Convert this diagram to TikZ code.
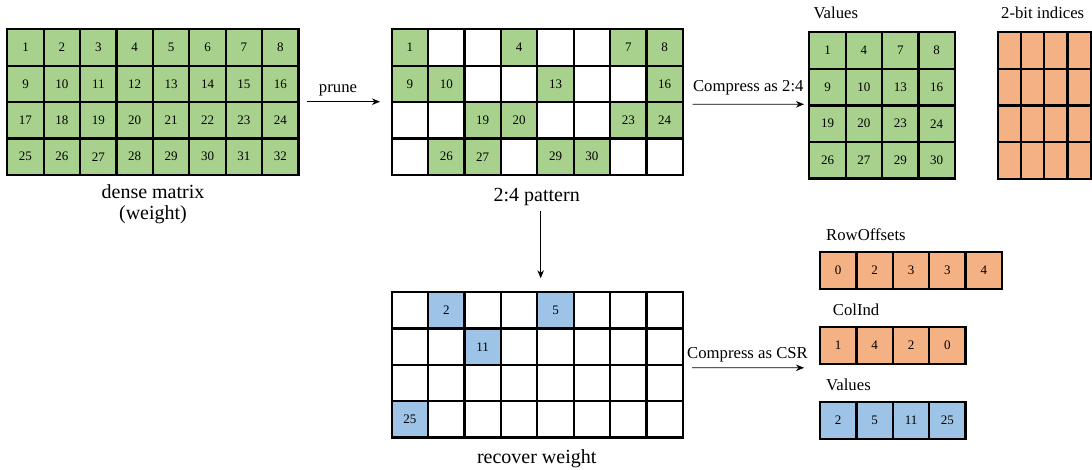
\documentclass[tikz,border=0pt]{standalone}
\usepackage{fontspec}
\setmainfont{Liberation Serif}
\usetikzlibrary{arrows.meta,calc}
\definecolor{cgreen}{HTML}{A9D18E}
\definecolor{corange}{HTML}{F4B183}
\definecolor{cblue}{HTML}{9DC3E6}
\begin{document}
\begin{tikzpicture}[x=1pt,y=-1pt,
  cell/.style={draw=black,line width=2.3pt,minimum width=36.4pt,minimum height=36.4pt,
    inner sep=0pt,outer sep=0pt,font=\fontsize{13}{15}\selectfont,anchor=north west},
  narrowcell/.style={cell,minimum width=23.25pt,minimum height=36.6pt},
  arrowcell/.style={cell,minimum height=37pt},
  arr/.style={-{Stealth[length=8pt,width=6.5pt,inset=2.5pt]},line width=0.9pt},
  lab/.style={font=\fontsize{16.7}{20}\selectfont,inner sep=0pt,anchor=base},
  biglab/.style={font=\fontsize{20}{21.7}\selectfont,inner sep=0pt,align=center}]
\useasboundingbox (0,0) rectangle (1092,470);

% dense matrix
\foreach \r in {1,...,4}{
  \foreach \c in {1,...,8}{
    \pgfmathtruncatemacro\n{(\r-1)*8+\c}
    \node[cell,fill=cgreen] (d-\r-\c) at ({7.3+(\c-1)*36.4},{29.3+(\r-1)*36.4}) {\n};
  }
}
\node[biglab,anchor=north] (dlabel) at (153,184) {dense matrix\\(weight)};

% 2:4 pattern
\foreach \r/\vals in {1/{1,0,0,4,0,0,7,8},2/{9,10,0,0,13,0,0,16},3/{0,0,19,20,0,0,23,24},4/{0,26,27,0,29,30,0,0}}{
  \foreach \v [count=\c] in \vals {
    \ifnum\v=0 \def\f{white}\def\t{}\else\def\f{cgreen}\def\t{\v}\fi
    \node[cell,fill=\f] (p-\r-\c) at ({391.7+(\c-1)*36.4},{29.3+(\r-1)*36.4}) {\t};
  }
}
\node[biglab,anchor=base] (plabel) at (536.7,201.7) {2:4 pattern};

% compressed values
\foreach \r/\vals in {1/{1,4,7,8},2/{9,10,13,16},3/{19,20,23,24},4/{26,27,29,30}}{
  \foreach \v [count=\c] in \vals {
    \node[cell,fill=cgreen] (v-\r-\c) at ({809.3+(\c-1)*36.4},{32.3+(\r-1)*36.6}) {\v};
  }
}
\node[lab,anchor=base west] (vlabel) at (813.3,19) {Values};

% 2-bit indices
\foreach \r in {1,...,4}{
  \foreach \c in {1,...,4}{
    \node[narrowcell,fill=corange] (i-\r-\c) at ({997.7+(\c-1)*23.25},{32.3+(\r-1)*36.6}) {};
  }
}
\node[lab,anchor=base west] (ilabel) at (1001,19) {2-bit indices};

% recover weight
\foreach \r/\vals in {1/{0,2,0,0,5,0,0,0},2/{0,0,11,0,0,0,0,0},3/{0,0,0,0,0,0,0,0},4/{25,0,0,0,0,0,0,0}}{
  \foreach \v [count=\c] in \vals {
    \ifnum\v=0 \def\f{white}\def\t{}\else\def\f{cblue}\def\t{\v}\fi
    \node[cell,fill=\f] (r-\r-\c) at ({391.7+(\c-1)*36.4},{292.3+(\r-1)*36.3}) {\t};
  }
}
\node[biglab,anchor=base] (rlabel) at (536.7,463.3) {recover weight};

% CSR arrays
\foreach \v [count=\c] in {0,2,3,3,4}{
  \node[arrowcell,fill=corange] (ro-\c) at ({820+(\c-1)*36.4},252) {\v};
}
\node[lab,anchor=base west] (rolabel) at (826,240.7) {RowOffsets};
\foreach \v [count=\c] in {1,4,2,0}{
  \node[arrowcell,fill=corange] (ci-\c) at ({820+(\c-1)*36.4},327) {\v};
}
\node[lab,anchor=base west] (cilabel) at (832.7,316) {ColInd};
\foreach \v [count=\c] in {2,5,11,25}{
  \node[arrowcell,fill=cblue] (cv-\c) at ({820+(\c-1)*36.4},402) {\v};
}
\node[lab,anchor=base west] (cvlabel) at (826,390.7) {Values};

% arrows
\draw[arr] ($(d-2-8.south east)+(8.2,-0.4)$) -- ($(p-3-1.north west)+(-11.7,-0.4)$);
\node[lab] (prunelabel) at (338,93) {prune};
\draw[arr] ($(p-2-8.south east)+(9.8,2.2)$) -- ($(v-3-1.north west)+(-5.3,-1.2)$);
\node[lab] (c24label) at (748.3,91.7) {Compress as 2:4};
\draw[arr] ($(p-4-5.south west)+(3.4,36.5)$) -- ($(r-1-5.north west)+(3.4,-14)$);
\draw[arr] ($(r-2-8.south east)+(9.3,2.7)$) -- ($(ci-1.south west)+(-16,3.8)$);
\node[lab] (csrlabel) at (747.5,358.3) {Compress as CSR};
\end{tikzpicture}
\end{document}
